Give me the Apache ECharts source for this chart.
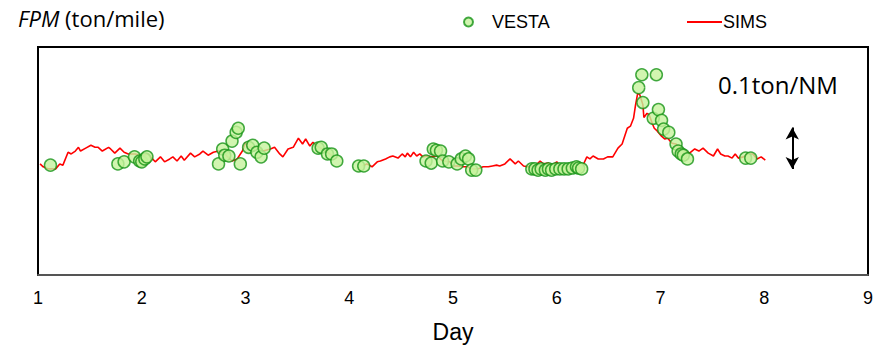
<!DOCTYPE html>
<html>
<head>
<meta charset="utf-8">
<script src="https://cdn.jsdelivr.net/npm/echarts@6/dist/echarts.min.js"></script>
<style>
  html, body { margin: 0; padding: 0; background: #fff; }
  #chart { width: 879px; height: 348px; }
</style>
</head>
<body>
<div id="chart"></div>
<script>
// SIMS (model) FPM, ton/mile; null marks a gap in the record
var simsDay = [1.02, 1.05, 1.10, 1.17, 1.21, 1.24, 1.29, 1.32, 1.36, 1.39, 1.41, 1.46, 1.51, 1.55, 1.58, 1.62, 1.68, 1.70, 1.74, 1.79,
  1.83, 1.87, 1.94, 1.99, 2.06, 2.13, 2.18, 2.22, 2.27, 2.30, 2.34, 2.38, 2.41, 2.47, 2.51, 2.56, 2.59, 2.64, 2.69, 2.74,
  2.80, 2.87, 2.92, 2.97, 3.00, 3.02, 3.11, 3.17, 3.24, 3.28, 3.33, 3.36, 3.41, 3.46, 3.51, 3.55, 3.58, 3.62, 3.65, 3.69,
  3.74, 3.80, 3.85, 4.00, 4.13, 4.17, 4.22, 4.27, 4.30, 4.35, 4.39, 4.42, 4.47, 4.51, 4.54, 4.56, 4.59, 4.62, 4.65, 4.68,
  4.71, 4.75, 4.80, 4.85, 4.90, 4.97, 5.00, 5.05, 5.10, 5.14, 5.18, 5.24, 5.29, 5.34, 5.38, 5.42, 5.45, 5.50, 5.55, 5.60,
  5.63, 5.68, 5.72, 5.79, 5.84, 5.87, 5.92, 5.95, 6.00, 6.03, 6.13, 6.21, 6.25, 6.29, 6.32, 6.35, 6.40, 6.45, 6.49, 6.54,
  6.59, 6.63, 6.68, 6.71, 6.74, 6.76, 6.78, 6.80, 6.83, 6.84, 6.87, 6.89, 6.92, 6.94, 6.97, 7.01, 7.04, 7.07, 7.11, 7.15,
  7.19, 7.24, 7.28, 7.33, 7.37, 7.41, 7.46, 7.51, 7.55, 7.58, 7.62, 7.65, 7.69, 7.72, 7.75, 7.80, 7.84, 7.89, 7.93, 7.97, 8.01];
var simsFpm = [0.268, 0.261, 0.256, 0.256, 0.268, 0.265, 0.296, 0.292, 0.299, 0.308, 0.299, 0.306, 0.313, 0.308, 0.308, 0.299, 0.308, 0.304, 0.294, 0.306,
  0.296, 0.292, 0.292, 0.287, 0.292, 0.273, 0.285, 0.273, 0.280, 0.285, 0.275, 0.287, 0.277, 0.294, 0.285, 0.292, 0.299, 0.289, 0.296, 0.299,
  0.292, 0.275, 0.280, 0.299, 0.320, 0.308, 0.308, 0.299, 0.304, 0.308, 0.292, 0.285, 0.304, 0.308, 0.330, 0.316, 0.328, 0.311, 0.320, 0.311,
  0.304, 0.294, 0.285, null, 0.263, 0.268, 0.261, 0.273, 0.275, 0.280, 0.285, 0.287, 0.282, 0.292, 0.285, 0.294, 0.285, 0.296, 0.287, 0.292,
  0.285, 0.287, 0.285, 0.287, 0.275, 0.273, 0.263, 0.263, 0.261, 0.261, 0.256, 0.256, 0.261, 0.261, 0.263, 0.265, 0.263, 0.268, 0.280, 0.268,
  0.275, 0.263, 0.261, 0.263, 0.275, 0.268, 0.270, 0.263, 0.273, 0.263, 0.261, 0.261, 0.263, 0.285, 0.280, 0.287, 0.280, 0.280, 0.285, 0.285,
  0.306, 0.316, 0.354, 0.359, 0.378, 0.411, 0.438, 0.435, 0.411, 0.380, 0.390, 0.387, 0.366, 0.354, 0.347, 0.335, 0.328, 0.330, 0.318, 0.316,
  0.304, 0.299, 0.294, 0.304, 0.299, 0.306, 0.294, 0.287, 0.304, 0.292, 0.287, 0.287, 0.282, 0.292, 0.282, 0.285, 0.292, 0.292, 0.280, 0.285, 0.277];

// VESTA (observed) FPM, ton/mile
var vestaDay = [1.12, 1.77, 1.83, 1.93, 1.98, 2.00, 2.03, 2.05, 2.74, 2.78, 2.80, 2.84, 2.87, 2.91, 2.93, 2.95, 3.03, 3.07, 3.11, 3.15, 3.18,
  3.70, 3.73, 3.79, 3.83, 3.88, 4.09, 4.14, 4.74, 4.79, 4.81, 4.84, 4.88, 4.90, 4.96, 5.04, 5.08, 5.12, 5.15, 5.18, 5.22,
  5.76, 5.79, 5.82, 5.85, 5.89, 5.92, 5.95, 5.99, 6.03, 6.07, 6.11, 6.15, 6.19, 6.21, 6.24,
  6.79, 6.82, 6.96, 6.83, 6.93, 6.98, 7.01, 7.03, 7.08, 7.15, 7.17, 7.20, 7.22, 7.26, 7.82, 7.87];
var vestaFpm = [0.265, 0.268, 0.273, 0.285, 0.275, 0.273, 0.280, 0.285, 0.268, 0.304, 0.289, 0.287, 0.323, 0.344, 0.354, 0.268, 0.308, 0.313, 0.296, 0.285, 0.306,
  0.306, 0.308, 0.292, 0.292, 0.275, 0.263, 0.263, 0.275, 0.270, 0.304, 0.301, 0.299, 0.275, 0.273, 0.268, 0.280, 0.287, 0.280, 0.253, 0.253,
  0.256, 0.256, 0.253, 0.256, 0.253, 0.256, 0.253, 0.256, 0.256, 0.256, 0.256, 0.258, 0.261, 0.258, 0.256,
  0.452, 0.483, 0.483, 0.416, 0.378, 0.399, 0.373, 0.352, 0.344, 0.316, 0.299, 0.292, 0.289, 0.280, 0.282, 0.282];

var dayTicks = [1, 2, 3, 4, 5, 6, 7, 8, 9];
var scaleBar = [0.256, 0.356]; // 0.1 ton/NM reference arrow
var scaleBarDay = 8.27;

var chart = echarts.init(document.getElementById('chart'), null, { renderer: 'svg' });

var simsData = simsDay.map(function(d, i) { return [d, simsFpm[i] === null ? '-' : simsFpm[i]]; });
var vestaData = vestaDay.map(function(d, i) { return [d, vestaFpm[i]]; });

var narrow = '"Liberation Sans Narrow", "Liberation Sans", Arial, sans-serif';

chart.setOption({
  animation: false,
  grid: {
    left: 38, right: 11, top: 47, bottom: 71,
    show: true, borderColor: '#000', borderWidth: 2, backgroundColor: '#fff'
  },
  legend: [{
    data: ['VESTA'],
    left: 458, top: 8,
    icon: 'circle', itemWidth: 9, itemHeight: 9,
    textStyle: { color: '#000', fontSize: 18, fontFamily: narrow, padding: [0, 0, 0, 14] }
  }, {
    data: ['SIMS'],
    left: 682, top: 8,
    icon: 'rect', itemWidth: 35, itemHeight: 2,
    textStyle: { color: '#000', fontSize: 18, fontFamily: narrow, padding: [0, 0, 0, -4] }
  }],
  graphic: [{
    type: 'text', left: 18, top: 7,
    style: {
      text: '{i|FPM} (ton/mile)',
      fill: '#000', font: '22px "Open Sans", sans-serif',
      rich: { i: { fontStyle: 'italic', fontSize: 22, fontFamily: '"Open Sans", sans-serif' } }
    }
  }, {
    type: 'text', left: 718, top: 72,
    style: { text: '0.1ton/NM', fill: '#000', font: '24px "Open Sans", sans-serif' }
  }],
  xAxis: {
    type: 'value', min: 1, max: 9, interval: 1,
    name: 'Day', nameLocation: 'middle', nameGap: 45,
    nameTextStyle: { color: '#000', fontSize: 23, fontFamily: narrow },
    axisLine: { show: true, lineStyle: { color: '#555', width: 2 } },
    axisTick: { show: false },
    splitLine: { show: false },
    axisLabel: {
      color: '#000', fontSize: 18, fontFamily: narrow, margin: 14,
      formatter: function(v) { return dayTicks.indexOf(v) >= 0 ? String(v) : ''; }
    }
  },
  yAxis: {
    type: 'value', min: 0, max: 0.55,
    axisLine: { show: false }, axisTick: { show: false },
    axisLabel: { show: false }, splitLine: { show: false }
  },
  series: [{
    name: 'SIMS',
    type: 'line',
    data: simsData,
    showSymbol: false, symbol: 'none',
    connectNulls: false,
    itemStyle: { color: '#ff0000' },
    lineStyle: { color: '#ff0000', width: 1.6 },
    z: 2,
    markLine: {
      silent: true,
      symbol: ['arrow', 'arrow'], symbolSize: [10, 12],
      label: { show: false },
      lineStyle: { color: '#000', width: 2, type: 'solid' },
      data: [[{ coord: [scaleBarDay, scaleBar[0]] }, { coord: [scaleBarDay, scaleBar[1]] }]]
    }
  }, {
    name: 'VESTA',
    type: 'scatter',
    data: vestaData,
    symbol: 'circle', symbolSize: 12,
    itemStyle: { color: '#c6f29c', borderColor: '#179417', borderWidth: 1.5 },
    z: 3
  }]
});
</script>
</body>
</html>
